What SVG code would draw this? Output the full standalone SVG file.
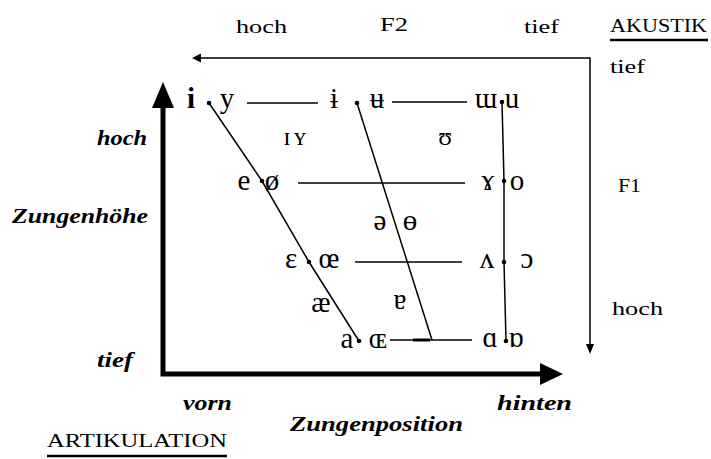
<svg xmlns="http://www.w3.org/2000/svg" width="711" height="459" viewBox="0 0 711 459">
<style>
.v{font-family:"Liberation Serif","DejaVu Serif",serif;font-size:29px;fill:#000;text-anchor:middle}
.vs{font-family:"Liberation Serif","DejaVu Serif",serif;font-size:25px;fill:#000;text-anchor:middle}
.lab{font-family:"Liberation Serif","DejaVu Serif",serif;font-size:19px;fill:#000}
.it{font-family:"Liberation Serif","DejaVu Serif",serif;font-size:20px;font-style:italic;font-weight:bold;fill:#000}
.thin{stroke:#000;stroke-width:1.5;fill:none}
.ax{stroke:#000;stroke-width:5;fill:none;stroke-linejoin:miter}
.dot{fill:#000}
</style>
<rect width="711" height="459" fill="#fff"/>

<g id="axes">
<path class="ax" d="M163,106 L163,374 L541,374"/>
<polygon points="152,108 163,82 174,108" fill="#000"/>
<polygon points="540,363 563,374 540,385" fill="#000"/>
<path class="thin" d="M200,58 L590,58 L590,346"/>
<polygon points="192,58 201,53.5 201,62.5" fill="#000"/>
<polygon points="590,354 586,344 594,344" fill="#000"/>
</g>

<g id="connectors">
<polyline class="thin" points="209,103 262,181 309,262 359,341"/>
<line class="thin" x1="357" y1="103" x2="432" y2="340"/>
<polyline class="thin" points="502,102 504,181 504,262 506,341"/>
<line class="thin" x1="247" y1="103" x2="318" y2="103"/>
<line class="thin" x1="392" y1="102" x2="467" y2="102"/>
<line class="thin" x1="298" y1="183" x2="465" y2="183"/>
<line class="thin" x1="355" y1="262" x2="462" y2="262"/>
<line class="thin" x1="390" y1="340" x2="472" y2="340"/>
<line stroke="#000" stroke-width="3" x1="413" y1="340" x2="430" y2="340"/>
</g>

<g id="n-i-y">
<text class="v" x="191" y="108" font-weight="bold">i</text>
<circle class="dot" cx="209" cy="103" r="2.3"/>
<text class="v" x="227" y="108">y</text>
</g>
<g id="n-barred">
<text class="v" x="334" y="108">ɨ</text>
<circle class="dot" cx="357" cy="103" r="2.3"/>
<text class="v" x="377" y="108">ʉ</text>
</g>
<g id="n-back-high">
<text class="v" x="486" y="108">ɯ</text>
<circle class="dot" cx="502" cy="102" r="2.3"/>
<text class="v" x="512" y="108">u</text>
</g>
<g id="n-lax-high">
<text class="vs" x="287" y="145">ɪ</text>
<text class="vs" x="300" y="145">ʏ</text>
<text class="vs" x="445" y="145">ʊ</text>
</g>
<g id="n-e-o">
<text class="v" x="244" y="190">e</text>
<circle class="dot" cx="262" cy="181" r="2.3"/>
<text class="v" x="272" y="190">ø</text>
<text class="v" x="488" y="190">ɤ</text>
<circle class="dot" cx="504" cy="181" r="2.3"/>
<text class="v" x="517" y="190">o</text>
</g>
<g id="n-schwa">
<text class="v" x="380" y="230">ə</text>
<text class="v" x="410" y="230">ɵ</text>
</g>
<g id="n-open-mid">
<text class="v" x="291" y="268">ɛ</text>
<circle class="dot" cx="309" cy="262" r="2.3"/>
<text class="v" x="329" y="268">œ</text>
<text class="v" x="487" y="268">ʌ</text>
<circle class="dot" cx="504" cy="262" r="2.3"/>
<text class="v" x="527" y="268">ɔ</text>
</g>
<g id="n-near-open">
<text class="v" x="321" y="312">æ</text>
<text class="v" x="400" y="309">ɐ</text>
</g>
<g id="n-open">
<text class="v" x="347" y="348">a</text>
<circle class="dot" cx="359" cy="341" r="2.3"/>
<text class="v" x="378" y="348">ɶ</text>
<text class="v" x="490" y="347">ɑ</text>
<circle class="dot" cx="506" cy="341" r="2.3"/>
<text class="v" x="516" y="347">ɒ</text>
</g>

<g id="labels-akustik">
<text class="lab" x="236" y="33" textLength="51" lengthAdjust="spacingAndGlyphs">hoch</text>
<text class="lab" x="380" y="31" textLength="28" lengthAdjust="spacingAndGlyphs">F2</text>
<text class="lab" x="524" y="33" textLength="35" lengthAdjust="spacingAndGlyphs">tief</text>
<text class="lab" x="610" y="32" textLength="97" lengthAdjust="spacingAndGlyphs">AKUSTIK</text>
<line x1="610" y1="40" x2="708" y2="40" stroke="#000" stroke-width="2.5"/>
<text class="lab" x="610" y="73" textLength="35" lengthAdjust="spacingAndGlyphs">tief</text>
<text class="lab" x="618" y="192" textLength="23" lengthAdjust="spacingAndGlyphs">F1</text>
<text class="lab" x="612" y="315" textLength="51" lengthAdjust="spacingAndGlyphs">hoch</text>
</g>

<g id="labels-artikulation">
<text class="it" x="97" y="145" textLength="50" lengthAdjust="spacingAndGlyphs">hoch</text>
<text class="it" x="12" y="223" textLength="136" lengthAdjust="spacingAndGlyphs">Zungenhöhe</text>
<text class="it" x="97" y="367" textLength="36" lengthAdjust="spacingAndGlyphs">tief</text>
<text class="it" x="183" y="410" textLength="49" lengthAdjust="spacingAndGlyphs">vorn</text>
<text class="it" x="497" y="410" textLength="75" lengthAdjust="spacingAndGlyphs">hinten</text>
<text class="it" x="290" y="431" textLength="173" lengthAdjust="spacingAndGlyphs">Zungenposition</text>
<text class="lab" x="47" y="447" textLength="180" lengthAdjust="spacingAndGlyphs">ARTIKULATION</text>
<line x1="47" y1="456" x2="227" y2="456" stroke="#000" stroke-width="2.5"/>
</g>
</svg>
